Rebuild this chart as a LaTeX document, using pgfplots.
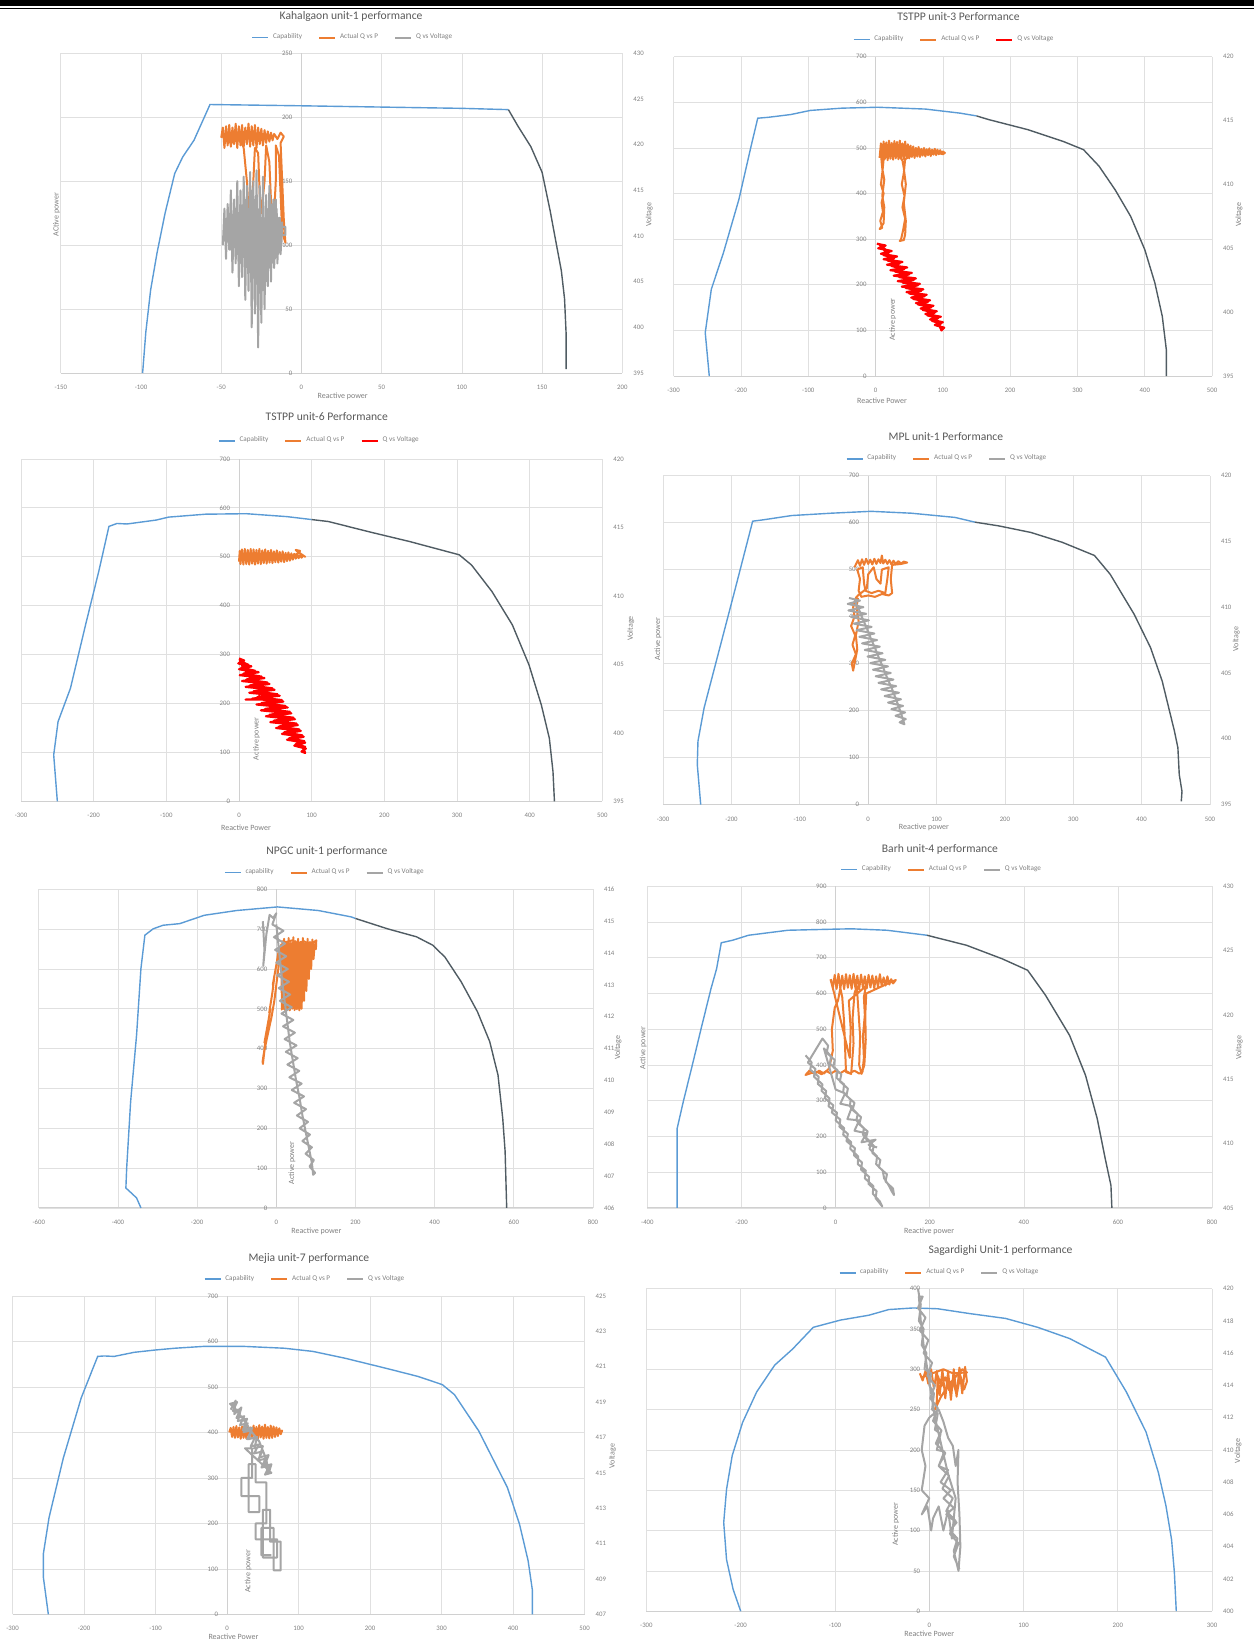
\documentclass[border=0pt]{standalone}
\usepackage{fontspec}
\setmainfont{Carlito}
\usepackage{pgfplots}
\pgfplotsset{compat=1.18}
\definecolor{capblue}{HTML}{5B9BD5}
\definecolor{capgray}{HTML}{505C63}
\definecolor{actorange}{HTML}{ED7D31}
\definecolor{volgray}{HTML}{A5A5A5}
\definecolor{volred}{HTML}{FF0000}
\definecolor{gridgray}{HTML}{E0E0E0}
\definecolor{axisgray}{HTML}{D0D0D0}
\definecolor{tickgray}{HTML}{808080}
\definecolor{titlegray}{HTML}{595959}
\newcommand\tickfont{\fontsize{3.4}{4}\selectfont}
\newcommand\legfont{\fontsize{3.6}{4.3}\selectfont}
\newcommand\labfont{\fontsize{4}{5}\selectfont}
\newcommand\titfont{\fontsize{5.8}{7}\selectfont}
\pgfplotsset{
 prim/.style={
   scale only axis, anchor=south west, clip=false,
   axis x line=bottom, axis y line=center,
   hide obscured x ticks=false, hide obscured y ticks=false,
   axis line style={draw=axisgray, line width=0.4pt, -},
   grid=major, major grid style={draw=gridgray, line width=0.35pt},
   major tick length=0pt,
   tick label style={font=\tickfont, text=tickgray},
   xticklabel style={yshift=-2.5pt},
   yticklabel style={xshift=-1pt},
   /pgf/number format/assume math mode=true,
   /pgf/number format/1000 sep={},
 },
 sec/.style={
   scale only axis, anchor=south west, clip=false,
   axis y line*=right, axis x line=none,
   axis line style={draw=none},
   major tick length=0pt,
   tick label style={font=\tickfont, text=tickgray},
   yticklabel style={xshift=2pt},
   /pgf/number format/assume math mode=true,
   /pgf/number format/1000 sep={},
   legend columns=3,
   legend cell align=left,
   legend style={draw=none, fill=none, font=\legfont, text=tickgray, anchor=center,
      inner sep=0pt, /tikz/every even column/.append style={column sep=6pt}},
   legend image code/.code={\draw[##1] (0pt,0pt) -- (8pt,0pt);},
 },
 cap/.style={capblue, line width=0.7pt},
 capg/.style={capgray, line width=0.7pt},
 act/.style={actorange, line width=1.0pt, line join=round},
 volg/.style={volgray, line width=1.0pt, line join=round},
 volr/.style={volred, line width=1.1pt, line join=round},
}
\newcommand\ttl[3]{\node[font=\titfont, text=titlegray, yshift=#3] at (axis description cs:#1,1) {#2};}
\newcommand\xlab[3]{\node[font=\labfont, text=tickgray, yshift=-#2] at (axis description cs:#1,0) {#3};}
\newcommand\ylab[3]{\node[font=\labfont, text=tickgray, rotate=90] at (axis description cs:#1,#2) {#3};}
\begin{document}
\begin{tikzpicture}
\useasboundingbox (0,0) rectangle (627pt,821pt);
\fill[black] (0,818.2pt) rectangle (627pt,821pt);
\draw[black, line width=0.6pt] (0,816.6pt) -- (627pt,816.6pt);

%================ P1 Kahalgaon
\begin{axis}[prim, at={(30.4pt,634.5pt)}, width=280.75pt, height=159.8pt,
  xmin=-150, xmax=200, ymin=0, ymax=250,
  xtick={-150,-100,...,200}, ytick={0,50,...,250}]
\addplot[cap] coordinates {(-99,0) (-97,32) (-94,65) (-90,94) (-85,125) (-79,156) (-74,169) (-67,182) (-57,210) (0,209) (50,208) (100,207) (129,206)};
\addplot[capg] coordinates {(129,206) (135,193) (143,177) (150,157) (155,127) (159,100) (162,80) (164,58) (165,30) (165,3)};
\addplot[act] coordinates {(-50,184) (-49,192) (-48,176) (-47,193) (-46,178) (-45,194) (-44,177) (-43,192) (-42,179) (-41,195) (-40,176) (-39,193) (-38,178) (-37,194) (-36,177) (-35,192) (-34,179) (-33,195) (-32,177) (-31,193) (-30,178) (-29,194) (-28,176) (-27,192) (-26,179) (-25,191) (-24,178) (-23,190) (-22,180) (-21,189) (-20,181) (-19,188) (-18,182) (-17,187) (-15,183) (-13,188) (-11,185) (-13,180) (-12,150) (-11,120) (-10,102) (-12,110) (-13,140) (-14,170) (-16,178) (-16,150) (-17,125) (-18,112) (-19,135) (-20,165) (-22,178) (-23,150) (-25,125) (-26,140) (-27,172) (-29,176) (-30,150) (-31,132) (-33,128) (-34,150) (-36,176) (-38,183) (-44,180) (-48,182)};
\ttl{0.517}{Kahalgaon unit-1 performance}{18.3pt}
\xlab{0.502}{11.5pt}{Reactive power}
\ylab{-0.0075}{0.495}{ACtive power}
\end{axis}
\begin{axis}[sec, at={(30.4pt,634.5pt)}, width=280.75pt, height=159.8pt,
  xmin=-150, xmax=200, ymin=395, ymax=430, ytick={395,400,...,430},
  legend style={at={(axis description cs:0.522,1.0494)}}]
\addlegendimage{cap}\addlegendentry{Capability}
\addlegendimage{act}\addlegendentry{Actual Q vs P}
\addplot[volg] coordinates {(-49,409) (-48,413) (-47,407.5) (-46,413.5) (-45,408.5) (-44,415) (-43,406) (-42,414) (-41,407) (-40,416) (-39,404.5) (-38,415) (-37,405.5) (-36,416.5) (-35,403) (-34,415.5) (-33,404) (-32,417) (-31,400) (-30,416) (-29,401.5) (-28,417.2) (-27,397.8) (-26,415.5) (-25,400.5) (-24,416.5) (-23,402) (-22,414.5) (-21,404.5) (-20,415.5) (-19,405) (-18,413.5) (-17,406.5) (-16,414) (-15,407) (-14,412) (-13,408) (-12,411.5) (-12.5,409) (-13.5,412) (-14.5,408) (-15.5,413) (-16.5,407.5) (-17.5,414) (-18.5,407) (-19.5,414.5) (-20.5,406.5) (-21.5,413) (-22.5,405) (-23.5,412) (-24.5,404) (-25.5,411) (-26.5,406) (-27.5,413) (-28.5,408) (-29.5,414) (-30.5,407) (-31.5,415) (-32.5,406) (-33.5,413) (-34.5,407) (-35.5,414) (-36.5,408) (-37.5,413) (-38.5,407) (-39.5,412) (-40.5,408) (-41.5,413) (-42.5,409) (-43.5,412) (-44.5,408.5) (-45.5,411) (-46.5,410) (-47.5,411.5) (-48.5,410) (-30,410) (-20,410) (-12,410.1) (-10,410.1) (-10,411) (-11.5,411)};
\addlegendentry{Q vs Voltage}
\ylab{1.048}{0.495}{Voltage}
\end{axis}

%================ P2 TSTPP unit-3
\begin{axis}[prim, at={(336.8pt,632.95pt)}, width=269.25pt, height=159.75pt,
  xmin=-300, xmax=500, ymin=0, ymax=700,
  xtick={-300,-200,...,500}, ytick={0,100,...,700}]
\addplot[cap] coordinates {(-247,0) (-253,95) (-244,190) (-226,270) (-203,387) (-185,503) (-175,565) (-159,567) (-126,573) (-97,582) (-50,587) (3,589) (74,585) (126,576) (150,570)};
\addplot[capg] coordinates {(150,570) (168,562) (226,540) (279,514) (309,496) (332,460) (356,408) (379,350) (400,277) (415,204) (426,131) (432,58) (432,0)};
\addplot[act] coordinates {(6,478) (8,510) (10,474) (12,514) (14,476) (16,512) (18,473) (20,516) (22,476) (24,511) (26,474) (28,515) (30,477) (32,513) (34,475) (36,516) (38,478) (40,510) (42,476) (44,514) (46,479) (48,508) (50,477) (52,505) (54,480) (56,503) (58,478) (60,500) (62,481) (64,502) (66,480) (68,498) (70,483) (72,500) (74,481) (76,497) (78,484) (80,499) (82,482) (84,496) (86,485) (88,498) (90,484) (92,496) (94,486) (96,495) (98,487) (100,492) (103,489) (100,486) (90,490) (75,489) (60,490) (44,475) (42,445) (39,420) (43,395) (40,370) (44,345) (41,320) (38,300) (36,296) (42,298) (44,310) (45,340) (42,380) (45,420) (42,455) (40,472) (30,494) (15,493) (12,474) (10,445) (8,420) (12,400) (9,380) (11,360) (7,340) (10,325) (6,322) (12,335) (13,370) (10,395) (13,430) (10,455) (9,470) (8,490)};
\ttl{0.529}{TSTPP unit-3 Performance}{19.9pt}
\xlab{0.387}{12.5pt}{Reactive Power}
\ylab{0.407}{0.177}{Active power}
\end{axis}
\begin{axis}[sec, at={(336.8pt,632.95pt)}, width=269.25pt, height=159.75pt,
  xmin=-300, xmax=500, ymin=395, ymax=420, ytick={395,400,...,420},
  legend style={at={(axis description cs:0.523,1.0526)}}]
\addlegendimage{cap}\addlegendentry{Capability}
\addlegendimage{act}\addlegendentry{Actual Q vs P}
\addplot[volr] coordinates {(2,405.357) (15,405.214) (4,405.0) (24,404.786) (8,404.571) (32,404.357) (12,404.143) (40,403.929) (17,403.714) (47,403.5) (22,403.286) (54,403.071) (27,402.857) (60,402.643) (33,402.429) (66,402.214) (39,402.0) (71,401.786) (46,401.571) (76,401.357) (53,401.143) (81,400.929) (60,400.714) (86,400.5) (67,400.286) (91,400.071) (74,399.857) (97,399.643) (81,399.429) (100,399.214) (88,399.0) (102,398.786) (98,398.571) (92,399.286) (86,399.714) (78,400.214) (70,400.786) (62,401.357) (54,401.929) (46,402.5) (38,403.071) (30,403.643) (22,404.214) (14,404.786) (6,405.286) (10,405.107) (20,404.679) (12,404.464) (28,404.25) (18,404.036) (36,403.821) (24,403.607) (43,403.393) (29,403.179) (50,402.964) (35,402.75) (57,402.536) (40,402.321) (63,402.107) (45,401.893) (68,401.679) (50,401.464) (73,401.25) (56,401.036) (78,400.821) (63,400.607) (83,400.393) (70,400.179) (88,399.964) (77,399.75) (93,399.536) (84,399.321) (97,399.107) (92,398.893)};
\addlegendentry{Q vs Voltage}
\ylab{1.050}{0.505}{Voltage}
\end{axis}

%================ P3 TSTPP unit-6
\begin{axis}[prim, at={(10.5pt,420.3pt)}, width=290.7pt, height=171.25pt,
  xmin=-300, xmax=500, ymin=0, ymax=700,
  xtick={-300,-200,...,500}, ytick={0,100,...,700}]
\addplot[cap] coordinates {(-250,0) (-255,95) (-249,163) (-232,231) (-210,368) (-193,470) (-179,562) (-168,568) (-154,567) (-114,575) (-97,581) (-46,587) (10,588) (66,582) (100,576)};
\addplot[capg] coordinates {(100,576) (123,572) (179,551) (235,531) (303,504) (320,483) (348,429) (376,361) (399,279) (416,197) (427,129) (432,61) (434,0)};
\addplot[act] coordinates {(0,490) (1,512) (2,485) (4,515) (6,484) (8,516) (10,485) (12,514) (14,484) (16,516) (18,486) (20,515) (22,484) (24,514) (26,486) (28,516) (30,485) (32,513) (34,487) (36,515) (38,486) (40,512) (42,488) (44,514) (46,487) (48,511) (50,489) (52,513) (54,488) (56,510) (58,490) (60,511) (62,489) (64,508) (66,491) (68,509) (70,492) (72,507) (74,494) (76,506) (78,496) (80,505) (82,497) (84,503) (86,498) (88,502) (91,500) (86,505) (80,511) (78,514) (84,512) (82,507) (70,500) (55,500) (40,500) (25,500) (10,500) (3,502)};
\ttl{0.526}{TSTPP unit-6 Performance}{20.95pt}
\xlab{0.387}{13.1pt}{Reactive Power}
\ylab{0.405}{0.183}{Active power}
\end{axis}
\begin{axis}[sec, at={(10.5pt,420.3pt)}, width=290.7pt, height=171.25pt,
  xmin=-300, xmax=500, ymin=395, ymax=420, ytick={395,400,...,420},
  legend style={at={(axis description cs:0.515,1.0523)}}]
\addlegendimage{cap}\addlegendentry{Capability}
\addlegendimage{act}\addlegendentry{Actual Q vs P}
\addplot[volr] coordinates {(0,405.429) (7,405.286) (-1,405.071) (17,404.857) (0,404.643) (27,404.429) (1,404.214) (35,404.0) (4,403.786) (42,403.571) (9,403.357) (49,403.143) (14,402.929) (56,402.714) (18,402.5) (61,402.286) (24,402.071) (67,401.857) (30,401.643) (72,401.429) (37,401.214) (77,401.0) (43,400.786) (81,400.571) (51,400.357) (85,400.143) (59,399.929) (89,399.714) (66,399.5) (91,399.286) (76,399.071) (92,398.857) (86,398.643) (91,398.536) (88,398.929) (82,399.357) (75,399.857) (68,400.357) (60,400.893) (52,401.429) (44,402.0) (36,402.571) (32,402.429) (9,402.429) (28,402.464) (28,403.143) (20,403.714) (12,404.286) (5,404.857) (1,405.286) (4,405.179) (13,404.964) (3,404.75) (22,404.536) (6,404.321) (31,404.107) (10,403.893) (39,403.679) (15,403.464) (46,403.25) (20,403.036) (53,402.821) (25,402.607) (59,402.393) (31,402.179) (64,401.964) (36,401.75) (70,401.536) (42,401.321) (75,401.107) (48,400.893) (79,400.679) (55,400.464) (83,400.25) (62,400.036) (87,399.821) (69,399.607) (90,399.393) (78,399.179) (92,398.964)};
\addlegendentry{Q vs Voltage}
\ylab{1.049}{0.505}{Voltage}
\end{axis}

%================ P4 MPL unit-1
\begin{axis}[prim, at={(331.55pt,418.7pt)}, width=273.45pt, height=164.5pt,
  xmin=-300, xmax=500, ymin=0, ymax=700,
  xtick={-300,-200,...,500}, ytick={0,100,...,700}]
\addplot[cap] coordinates {(-245,0) (-250,85) (-249,135) (-240,206) (-217,334) (-194,462) (-169,603) (-153,606) (-112,615) (-54,620) (4,624) (63,620) (127,611) (156,601)};
\addplot[capg] coordinates {(156,601) (191,593) (238,579) (284,558) (331,530) (354,490) (389,405) (413,334) (430,263) (448,156) (453,121) (455,64) (459,28) (458,7)};
\addplot[act] coordinates {(-20,505) (-15,520) (-12,508) (-9,522) (-6,510) (-3,523) (0,512) (3,521) (6,511) (9,523) (12,512) (15,522) (18,514) (20,530) (22,513) (25,521) (28,512) (31,520) (34,511) (37,519) (40,512) (44,518) (48,513) (52,517) (57,515) (48,512) (35,510) (33,480) (35,450) (30,445) (20,448) (10,442) (0,445) (-10,442) (-14,455) (-12,480) (-16,500) (-8,505) (-6,470) (-4,455) (5,450) (15,455) (25,450) (28,480) (30,505) (20,500) (18,470) (12,480) (8,505) (0,490) (-2,460) (-15,445) (-18,440) (-22,420) (-20,400) (-25,380) (-19,360) (-23,340) (-18,320) (-24,300) (-22,285) (-20,300) (-16,330) (-18,360) (-14,390) (-17,420) (-15,440)};
\ttl{0.517}{MPL unit-1 Performance}{19.35pt}
\xlab{0.477}{11.5pt}{Reactive power}
\ylab{-0.0095}{0.503}{Active power}
\end{axis}
\begin{axis}[sec, at={(331.55pt,418.7pt)}, width=273.45pt, height=164.5pt,
  xmin=-300, xmax=500, ymin=395, ymax=420, ytick={395,400,...,420},
  legend style={at={(axis description cs:0.521,1.0508)}}]
\addlegendimage{cap}\addlegendentry{Capability}
\addlegendimage{act}\addlegendentry{Actual Q vs P}
\addplot[volg] coordinates {(-28,410.7) (-12,410.5) (-30,410.25) (-7,410.0) (-29,409.75) (-3,409.5) (-25,409.25) (1,409.0) (-21,408.75) (5,408.5) (-17,408.25) (9,408.0) (-13,407.75) (13,407.5) (-9,407.25) (17,407.0) (-5,406.75) (21,406.5) (-1,406.25) (25,406.0) (3,405.75) (29,405.5) (7,405.25) (33,405.0) (11,404.75) (37,404.5) (15,404.25) (41,404.0) (19,403.75) (45,403.5) (24,403.25) (48,403.0) (29,402.75) (51,402.5) (34,402.25) (54,402.0) (40,401.75) (55,401.5) (46,401.25) (53,401.1) (50,401.6) (45,402.4) (40,403.1) (34,403.9) (28,404.6) (22,405.4) (16,406.1) (10,406.9) (4,407.6) (-2,408.4) (-8,409.1) (-14,409.9) (-20,410.5)};
\addlegendentry{Q vs Voltage}
\ylab{1.048}{0.503}{Voltage}
\end{axis}

%================ P5 NPGC unit-1
\begin{axis}[prim, at={(19.4pt,217.05pt)}, width=277.1pt, height=159.25pt,
  xmin=-600, xmax=800, ymin=0, ymax=800,
  xtick={-600,-400,...,800}, ytick={0,100,...,800}]
\addplot[cap] coordinates {(-342,0) (-353,25) (-368,39) (-380,50) (-378,100) (-368,267) (-353,434) (-342,601) (-332,685) (-311,701) (-286,710) (-244,714) (-182,735) (-100,747) (3,756) (106,747) (189,731) (200,727)};
\addplot[capg] coordinates {(200,727) (281,701) (354,681) (395,660) (426,630) (467,568) (508,493) (539,418) (560,334) (572,225) (578,142) (582,0)};
\addplot[act] coordinates {(-34,360) (-30,395) (-33,375) (-26,430) (-30,415) (-20,470) (-15,500) (-18,490) (-10,540) (-5,580) (-9,560) (0,610) (5,640) (13,662) (14,498) (16,670) (18,500) (20,676) (22,497) (25,668) (28,499) (31,678) (34,496) (37,666) (40,500) (43,680) (46,497) (49,670) (52,499) (55,676) (58,496) (61,668) (64,500) (67,678) (70,520) (73,665) (76,545) (79,676) (82,575) (85,668) (88,600) (91,674) (94,625) (97,662) (100,650) (101,672) (85,660) (70,670) (55,665) (40,672) (25,668) (12,660) (5,600) (-5,520) (-12,480) (-25,420) (-32,385) (-35,365)};
\ttl{0.520}{NPGC unit-1 performance}{18.85pt}
\xlab{0.501}{11.5pt}{Reactive power}
\ylab{0.457}{0.141}{Active power}
\end{axis}
\begin{axis}[sec, at={(19.4pt,217.05pt)}, width=277.1pt, height=159.25pt,
  xmin=-600, xmax=800, ymin=406, ymax=416, ytick={406,407,...,416},
  legend style={at={(axis description cs:0.518,1.0524)}}]
\addlegendimage{cap}\addlegendentry{capability}
\addlegendimage{act}\addlegendentry{Actual Q vs P}
\addplot[volg] coordinates {(-34,415.0) (-30,414.1) (-33,413.6) (-25,414.6) (-17,415.2) (-8,415.1) (0,415.25) (-10,414.9) (18,414.7) (-6,414.5) (22,414.3) (-3,414.1) (25,413.9) (0,413.7) (29,413.5) (3,413.3) (32,413.1) (6,412.9) (35,412.7) (9,412.5) (39,412.3) (13,412.1) (43,411.9) (17,411.7) (47,411.5) (21,411.3) (51,411.1) (24,410.9) (54,410.7) (28,410.5) (58,410.3) (33,410.1) (64,409.9) (39,409.7) (70,409.5) (45,409.3) (75,409.1) (52,408.9) (80,408.7) (59,408.5) (85,408.3) (66,408.1) (90,407.9) (74,407.7) (95,407.5) (84,407.3) (98,407.1) (93,407.04) (90,407.4) (82,407.9) (74,408.4) (66,408.9) (58,409.5) (50,410.0) (42,410.6) (34,411.2) (28,411.8) (22,412.4) (16,413.0) (10,413.7) (5,414.3) (0,414.9)};
\addlegendentry{Q vs Voltage}
\ylab{1.045}{0.503}{Voltage}
\end{axis}

%================ P6 Barh unit-4
\begin{axis}[prim, at={(323.7pt,217.05pt)}, width=282.35pt, height=160.8pt,
  xmin=-400, xmax=800, ymin=0, ymax=900,
  xtick={-400,-200,...,800}, ytick={0,100,...,900}]
\addplot[cap] coordinates {(-337,0) (-337,109) (-337,221) (-324,296) (-303,408) (-286,501) (-265,613) (-253,669) (-243,742) (-219,749) (-185,763) (-101,777) (-4,780) (34,781) (109,777) (194,763)};
\addplot[capg] coordinates {(194,763) (278,735) (354,697) (408,665) (446,595) (497,483) (531,371) (556,249) (573,137) (585,63) (587,0)};
\addplot[act] coordinates {(-10,640) (-6,615) (-2,652) (2,613) (6,655) (10,614) (14,650) (18,612) (22,654) (26,616) (30,651) (34,613) (38,655) (42,615) (46,650) (50,612) (54,653) (58,616) (62,648) (66,614) (70,652) (74,617) (78,650) (82,615) (86,648) (90,618) (94,654) (98,620) (102,645) (106,622) (110,648) (114,625) (118,640) (122,628) (128,638) (65,600) (63,540) (64,470) (61,400) (55,375) (50,400) (52,480) (48,560) (45,620) (40,600) (36,530) (38,460) (33,375) (22,380) (20,450) (18,520) (14,590) (10,615) (5,580) (-2,560) (-8,500) (-6,440) (-14,390) (-25,376) (-35,384) (-45,375) (-55,385) (-64,372) (-50,378) (-40,381) (-30,374) (-20,383) (-10,376) (0,384) (10,377) (20,385) (30,377) (40,384) (50,376) (57,380) (60,420) (58,480) (62,540) (60,590) (64,620) (28,580) (32,500) (30,420) (-3,600) (-11,640)};
\ttl{0.518}{Barh unit-4 performance}{18.35pt}
\xlab{0.499}{11.5pt}{Reactive power}
\ylab{-0.0074}{0.498}{Active power}
\end{axis}
\begin{axis}[sec, at={(323.7pt,217.05pt)}, width=282.35pt, height=160.8pt,
  xmin=-400, xmax=800, ymin=405, ymax=430, ytick={405,410,...,430},
  legend style={at={(axis description cs:0.523,1.0522)}}]
\addlegendimage{cap}\addlegendentry{Capability}
\addlegendimage{act}\addlegendentry{Actual Q vs P}
\addplot[volg] coordinates {(-64,416.861) (-51,416.306) (-54,415.75) (-36,415.194) (-38,414.639) (-20,414.083) (-23,413.528) (-5,412.972) (-8,412.417) (10,411.861) (8,411.306) (26,410.75) (23,410.194) (41,409.639) (39,409.083) (56,408.528) (54,407.972) (71,407.417) (70,406.861) (87,406.306) (85,405.75) (99,405.111) (94,405.5) (79,406.1) (80,406.7) (62,407.3) (64,407.9) (47,408.4) (48,409.0) (31,409.6) (33,410.1) (16,410.7) (18,411.2) (0,411.8) (3,412.4) (-15,412.9) (-13,413.5) (-30,414.1) (-28,414.6) (-46,415.2) (-43,415.8) (-59,416.3) (-28,418.167) (-16,417.611) (-19,417.056) (-2,416.5) (-5,415.944) (12,415.389) (9,414.833) (26,414.278) (23,413.722) (40,413.167) (36,412.611) (54,412.056) (50,411.5) (68,410.944) (64,410.389) (81,409.833) (78,409.278) (95,408.722) (92,408.167) (109,407.611) (106,407.056) (122,406.5) (124,406.0) (119,406.3) (112,406.8) (103,407.3) (100,407.9) (86,408.4) (88,409.0) (72,409.6) (75,410.1) (58,410.7) (60,411.2) (44,411.8) (47,412.3) (30,412.9) (32,413.4) (16,414.0) (18,414.6) (2,415.1) (4,415.7) (-12,416.2) (-10,416.8) (-25,417.4) (0,414.2) (20,413.9) (10,413.1) (35,412.9) (25,411.9) (50,411.8) (40,411.0) (65,410.8) (55,410.1) (85,410.3) (70,409.9) (88,409.7)};
\addlegendentry{Q vs Voltage}
\ylab{1.048}{0.498}{Voltage}
\end{axis}

%================ P7 Mejia unit-7
\begin{axis}[prim, at={(6.3pt,13.8pt)}, width=286pt, height=159.25pt,
  xmin=-300, xmax=500, ymin=0, ymax=700,
  xtick={-300,-200,...,500}, ytick={0,100,...,700}]
\addplot[cap] coordinates {(-250,0) (-257,82) (-257,133) (-249,213) (-229,344) (-204,476) (-181,567) (-172,568) (-158,567) (-130,576) (-101,581) (-73,585) (-33,589) (24,589) (80,585) (120,578) (165,563) (222,541) (267,523) (301,505) (318,483) (352,403) (392,279) (409,198) (421,118) (427,53) (427,0)};
\addplot[act] coordinates {(3,400) (5,410) (7,390) (9,412) (11,388) (13,414) (15,389) (17,411) (19,386) (21,413) (23,388) (25,410) (27,386) (29,414) (31,389) (33,411) (35,387) (37,415) (39,388) (41,412) (43,386) (45,416) (47,389) (49,413) (51,386) (53,417) (55,388) (57,412) (59,387) (61,415) (63,388) (65,413) (67,390) (69,411) (71,392) (73,409) (75,396) (77,404) (72,400) (60,398) (45,402) (30,398) (15,402) (5,398)};
\ttl{0.518}{Mejia unit-7 performance}{18.85pt}
\xlab{0.386}{11pt}{Reactive Power}
\ylab{0.412}{0.135}{Active power}
\end{axis}
\begin{axis}[sec, at={(6.3pt,13.8pt)}, width=286pt, height=159.25pt,
  xmin=-300, xmax=500, ymin=407, ymax=425, ytick={407,409,...,425},
  legend style={at={(axis description cs:0.513,1.0527)}}]
\addlegendimage{cap}\addlegendentry{Capability}
\addlegendimage{act}\addlegendentry{Actual Q vs P}
\addplot[volg] coordinates {(5,418.571) (12,419.086) (10,418.314) (20,418.7) (15,417.929) (28,418.057) (22,417.414) (35,417.543) (30,416.9) (42,417.029) (38,416.386) (50,416.514) (45,415.871) (58,416.0) (52,415.357) (62,415.486) (58,414.971) (55,415.743) (45,416.771) (35,417.286) (22,418.057) (10,418.7) (4,418.9) (14,419.0) (8,418.5) (19,418.6) (13,418.1) (24,418.2) (18,417.7) (29,417.8) (23,417.3) (34,417.4) (28,416.9) (39,417.0) (33,416.5) (44,416.6) (38,416.1) (49,416.2) (43,415.7) (54,415.8) (48,415.3) (59,415.4) (53,414.9) (62,415.0) (25,416.386) (35,416.386) (35,414.714) (20,414.714) (20,413.686) (45,413.686) (45,412.786) (30,412.786) (30,415.486) (40,415.486) (40,414.457) (55,414.457) (55,412.143) (40,412.143) (40,411.243) (70,411.243) (70,410.214) (50,410.214) (50,412.914) (60,412.914) (60,411.114) (75,411.114) (75,409.494) (65,409.494) (65,411.886) (48,411.886) (48,410.343) (62,410.343)};
\addlegendentry{Q vs Voltage}
\ylab{1.049}{0.497}{Voltage}
\end{axis}

%================ P8 Sagardighi Unit-1
\begin{axis}[prim, at={(323.2pt,15.4pt)}, width=282.85pt, height=161.3pt,
  xmin=-300, xmax=300, ymin=0, ymax=400,
  xtick={-300,-200,...,300}, ytick={0,50,...,400}]
\addplot[cap] coordinates {(-200,0) (-208,27) (-215,64) (-218,110) (-215,151) (-209,193) (-198,234) (-183,272) (-164,305) (-145,325) (-123,352) (-94,361) (-64,367) (-43,374) (-17,376) (9,375) (43,369) (81,363) (115,352) (149,338) (187,315) (209,272) (230,222) (243,172) (251,131) (257,89) (260,48) (262,0)};
\addplot[act] coordinates {(-10,295) (-7,286) (-4,298) (-1,282) (2,300) (5,276) (8,298) (11,268) (14,299) (17,264) (20,297) (23,262) (26,300) (29,266) (32,302) (35,270) (38,303) (40,285) (37,275) (33,292) (29,268) (25,287) (21,274) (17,290) (13,279) (9,292) (8,260) (6,250) (12,265) (20,280) (35,300) (40,296) (25,295) (15,300) (-8,290)};
\ttl{0.626}{Sagardighi Unit-1 performance}{18.85pt}
\xlab{0.5}{11.5pt}{Reactive Power}
\ylab{0.441}{0.269}{Active power}
\end{axis}
\begin{axis}[sec, at={(323.2pt,15.4pt)}, width=282.85pt, height=161.3pt,
  xmin=-300, xmax=300, ymin=400, ymax=420, ytick={400,402,...,420},
  legend style={at={(axis description cs:0.520,1.0487)}}]
\addlegendimage{cap}\addlegendentry{capability}
\addlegendimage{act}\addlegendentry{Actual Q vs P}
\addplot[volg] coordinates {(-12,420) (-9,419) (-11,418) (-6,417.5) (-8,416.5) (-3,416) (-5,415) (2,414.75) (0,414) (5,413.5) (3,412.5) (9,412.25) (6,411.25) (12,411) (8,410) (16,409.9) (10,409) (20,408.75) (12,408) (23,407.5) (15,407) (26,406.4) (18,406) (29,405.5) (22,405) (30,404.5) (26,403.75) (31,402.5) (33,404) (32,406) (30,408) (31,410) (28,409) (25,410.25) (20,410.75) (15,411.75) (10,412.5) (0,412) (-5,411.5) (-8,410) (-4,409) (-8,407.5) (0,407) (-8,406) (-2,406.5) (2,405) (4,405.75) (10,406.5) (15,405) (20,406.25) (24,404.5) (28,407) (20,408.5) (12,410.5) (6,412) (2,413.5) (-2,415) (-6,416.5) (-9,418) (-11,419.5) (-7,419.5) (-12,418.8) (-4,418.2) (-10,417.4) (-1,416.8) (-6,416.0) (3,415.4) (-2,414.6) (6,414.0) (1,413.2) (9,412.6) (4,411.8) (13,411.2) (7,410.4) (17,409.8) (10,409.0) (21,408.4) (14,407.6) (25,407.0) (18,406.2) (28,405.6) (22,404.8) (31,404.2) (26,403.4) (32,402.6)};
\addlegendentry{Q vs Voltage}
\ylab{1.046}{0.497}{Voltage}
\end{axis}
\end{tikzpicture}
\end{document}
